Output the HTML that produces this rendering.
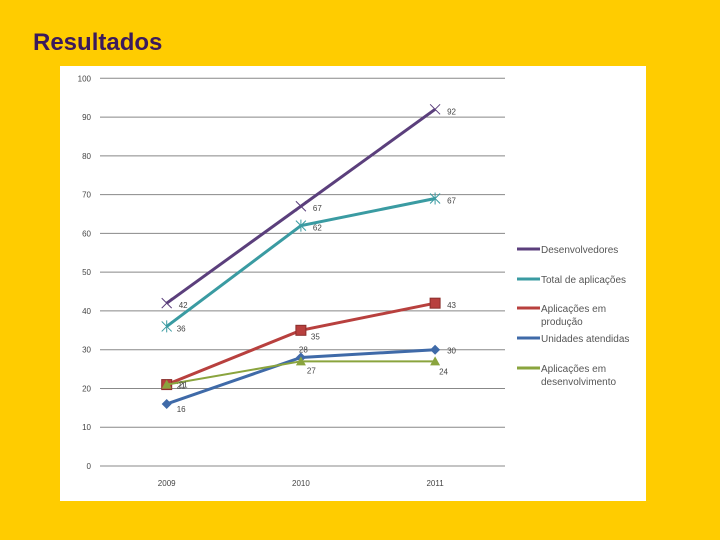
<!DOCTYPE html>
<html><head><meta charset="utf-8"><style>
body{margin:0;width:720px;height:540px;background:#ffcc00;overflow:hidden;font-family:"Liberation Sans",sans-serif}
#title{position:absolute;left:33px;top:29px;font-size:24px;font-weight:bold;color:#3b1a5c}
svg{position:absolute;left:0;top:0}
</style></head><body>
<div id="title">Resultados</div>
<svg width="720" height="540">
<rect x="60" y="66" width="586" height="435" fill="#fff"/>
<g id="grid"></g><g id="series"></g><g id="legend"></g>
</svg>
<script>
const categories=["2009","2010","2011"];
const yTicks=[0,10,20,30,40,50,60,70,80,90,100];
const seriesNames=["Desenvolvedores","Total de aplicações","Aplicações em produção","Unidades atendidas","Aplicações em desenvolvimento"];
const desenvolvedores=[42,67,92];
const totalAplicacoes=[36,62,69];
const aplicacoesProducao=[21,35,42];
const unidadesAtendidas=[16,28,30];
const aplicacoesDesenvolvimento=[21,27,27];
const labelsDesenvolvedores=["42","67","92"];
const labelsTotal=["36","62","67"];
const labelsProducao=["21","35","43"];
const labelsUnidades=["16","28","30"];
const labelsDesenvolvimento=["21","27","24"];

const NS="http://www.w3.org/2000/svg";
const y=v=>466-v*3.877;
const x=i=>166.7+i*134.2;
function mk(t,a,p){const e=document.createElementNS(NS,t);for(const k in a)e.setAttribute(k,a[k]);p.appendChild(e);return e;}
const grid=document.getElementById('grid');
yTicks.forEach(t=>{
  const l=mk('line',{x1:100,x2:505,y1:y(t),y2:y(t),stroke:'#888','stroke-width':1},grid);
  
  
  const tx=mk('text',{x:91,y:y(t)+3,'text-anchor':'end','font-size':8,fill:'#444'},grid);
  tx.textContent=t;
  
  
});
categories.forEach((c,i)=>{
  const tx=mk('text',{x:x(i),y:486,'text-anchor':'middle','font-size':8,fill:'#444'},grid);
  tx.textContent=c;
  
  
});
const colors=["#5b3f7c","#3a9ba2","#b8403e","#3f6aa8","#8aa43e"];
const markers=["x","star","square","diamond","triangle"];
const vals=[desenvolvedores,totalAplicacoes,aplicacoesProducao,unidadesAtendidas,aplicacoesDesenvolvimento];
const labs=[labelsDesenvolvedores,labelsTotal,labelsProducao,labelsUnidades,labelsDesenvolvimento];
const labOff=[[12,5],[12,5],[12,7],[12,4],[12,3]];
const special={"3-1":[-2,-5],"2-1":[10,9],"4-1":[6,12],"4-2":[4,13],"2-0":[10,4],"3-0":[10,8],"1-0":[10,5],"2-2":[12,5]};
function marker(type,cx,cy,col,g){
  if(type==="x"||type==="star"){
    mk('path',{d:`M${cx-5},${cy-5}L${cx+5},${cy+5}M${cx-5},${cy+5}L${cx+5},${cy-5}`+(type==="star"?`M${cx},${cy-6}L${cx},${cy+6}`:''),stroke:col,'stroke-width':1,fill:'none'},g);
  }else if(type==="square"){mk('rect',{x:cx-5,y:cy-5,width:10,height:10,fill:col,stroke:'#8a2e2c'},g);}
  else if(type==="diamond"){mk('path',{d:`M${cx},${cy-5}L${cx+5},${cy}L${cx},${cy+5}L${cx-5},${cy}Z`,fill:col},g);}
  else {mk('path',{d:`M${cx},${cy-5}L${cx+5},${cy+4}L${cx-5},${cy+4}Z`,fill:col},g);}
}
const sg=document.getElementById('series');
vals.forEach((v,s)=>{
  const g=mk('g',{},sg);
  
  
  const pl=mk('polyline',{points:v.map((d,i)=>x(i)+','+y(d)).join(' '),fill:'none',stroke:colors[s],'stroke-width':s===4?2:3},g);
  
  
  v.forEach((d,i)=>{
    marker(markers[s],x(i),y(d),colors[s],g);
    const o=special[s+'-'+i]||labOff[s];
    const t=mk('text',{x:x(i)+o[0],y:y(d)+o[1],'font-size':8,fill:'#444'},g);
    t.textContent=labs[s][i];
    
    
  });
});
const lg=document.getElementById('legend');
const ly=[249,279,308,338,368];
seriesNames.forEach((n,s)=>{
  const g=mk('g',{},lg);
  
  
  mk('line',{x1:517,x2:540,y1:ly[s],y2:ly[s],stroke:colors[s],'stroke-width':3},g);
  const t=mk('text',{x:541,y:ly[s]+4,'font-size':10,fill:'#555'},g);
  const words=n.split(' ');
  if(s===2||s===4){
    t.textContent=words[0]+' '+words[1];
    const t2=mk('text',{x:541,y:ly[s]+17,'font-size':10,fill:'#555'},g);
    t2.textContent=words[2];
  } else t.textContent=n;
});
</script>
</body></html>
